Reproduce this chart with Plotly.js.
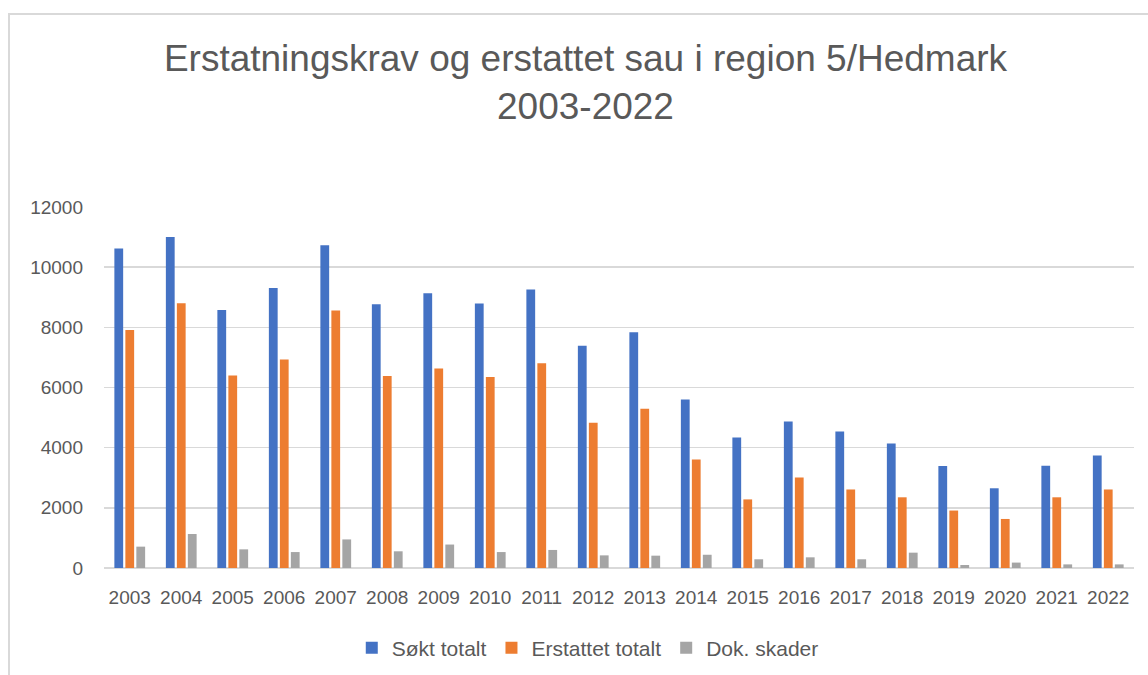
<!DOCTYPE html>
<html>
<head>
<meta charset="utf-8">
<script src="https://cdn.plot.ly/plotly-3.0.1.min.js"></script>
<style>
  html, body { margin: 0; padding: 0; background: #fff; }
  #frame { position: absolute; left: 8px; top: 13px; width: 1200px; height: 700px;
           border-left: 2px solid #d9d9d9; border-top: 2px solid #d9d9d9; pointer-events: none; z-index: 5; }
  #chart { position: absolute; left: 0; top: 0; width: 1148px; height: 675px; }
</style>
</head>
<body>
<div id="chart"></div>
<div id="frame"></div>
<script>
const years = ['2003','2004','2005','2006','2007','2008','2009','2010','2011','2012',
               '2013','2014','2015','2016','2017','2018','2019','2020','2021','2022'];
const soktTotalt = [10620, 11000, 8580, 9310, 10730, 8770, 9130, 8790, 9260, 7390,
                    7840, 5600, 4340, 4870, 4540, 4140, 3390, 2650, 3400, 3740];
const erstattetTotalt = [7910, 8800, 6400, 6930, 8560, 6380, 6630, 6350, 6810, 4830,
                         5290, 3610, 2280, 3010, 2610, 2350, 1910, 1630, 2350, 2610];
const dokSkader = [710, 1130, 620, 530, 950, 555, 780, 530, 600, 420,
                   410, 440, 290, 355, 290, 510, 100, 180, 120, 120];
const seriesNames = ['Søkt totalt', 'Erstattet totalt', 'Dok. skader'];
const yTicks = [0, 2000, 4000, 6000, 8000, 10000, 12000];

const colors = ['#4472C4', '#ED7D31', '#A5A5A5'];
const font = 'Liberation Sans, Arial, sans-serif';
const data = [soktTotalt, erstattetTotalt, dokSkader].map((vals, i) => ({
  type: 'bar', name: seriesNames[i], x: years, y: vals,
  marker: { color: colors[i] }, hoverinfo: 'x+y+name'
}));

const layout = {
  width: 1148, height: 675,
  paper_bgcolor: '#ffffff', plot_bgcolor: '#ffffff',
  margin: { l: 104, r: 14, t: 207, b: 107 },
  barmode: 'group', bargap: 0.36, bargroupgap: 0.2,
  title: {
    text: 'Erstatningskrav og erstattet sau i region 5/Hedmark<br>2003-2022',
    font: { family: font, size: 37, color: '#595959' },
    xref: 'container', x: 0.51, yref: 'container', y: 1 - 71/675, yanchor: 'top'
  },
  xaxis: {
    type: 'category', tickvals: years, ticktext: years,
    tickfont: { family: font, size: 19, color: '#595959' },
    showgrid: false, showline: false, ticks: '', zeroline: false,
    ticklabelstandoff: 16
  },
  yaxis: {
    range: [0, 12000], tickvals: yTicks, ticktext: yTicks.map(String),
    tickfont: { family: font, size: 19, color: '#595959' },
    showgrid: true, gridcolor: '#d9d9d9', gridwidth: 1.5,
    zeroline: true, zerolinecolor: '#d9d9d9', zerolinewidth: 1.5,
    showline: false, ticks: '', ticklabelstandoff: 20
  },
  legend: {
    orientation: 'h', xref: 'container', x: 0.512, xanchor: 'center',
    yref: 'container', y: 1 - 648/675, yanchor: 'middle',
    font: { family: font, size: 21, color: '#595959' },
    itemwidth: 30, traceorder: 'normal'
  },
  showlegend: true
};

Plotly.newPlot('chart', data, layout, { displayModeBar: false, staticPlot: true });
</script>
</body>
</html>
